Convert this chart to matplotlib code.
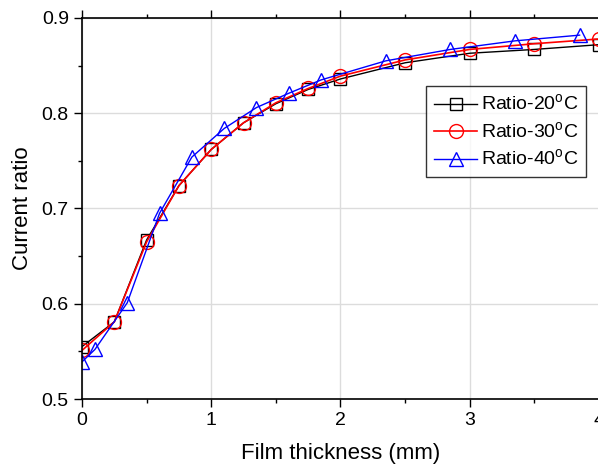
import matplotlib
matplotlib.use("Agg")
import matplotlib.pyplot as plt
from matplotlib.ticker import MultipleLocator

plt.rcParams['font.family'] = ['Liberation Sans', 'DejaVu Sans']
plt.rcParams['mathtext.fontset'] = 'custom'
plt.rcParams['mathtext.rm'] = 'Liberation Sans'

x_a = [0, 0.25, 0.5, 0.75, 1.0, 1.25, 1.5, 1.75, 2.0, 2.5, 3.0, 3.5, 4.0]
ratio_20 = [0.555, 0.581, 0.667, 0.724, 0.762, 0.790, 0.810, 0.825, 0.836, 0.853, 0.863, 0.867, 0.872]
ratio_30 = [0.551, 0.581, 0.665, 0.724, 0.762, 0.790, 0.811, 0.826, 0.839, 0.856, 0.867, 0.873, 0.878]
x_b = [0, 0.1, 0.35, 0.6, 0.85, 1.1, 1.35, 1.6, 1.85, 2.35, 2.85, 3.35, 3.85]
ratio_40 = [0.539, 0.552, 0.601, 0.695, 0.754, 0.784, 0.806, 0.821, 0.835, 0.855, 0.867, 0.876, 0.882]

labels = ['Ratio-20$^\\mathrm{o}$C', 'Ratio-30$^\\mathrm{o}$C', 'Ratio-40$^\\mathrm{o}$C']

W, H = 598, 466
fig = plt.figure(figsize=(W/100, H/100), dpi=100)
ax = fig.add_axes([82/W, (H-399)/H, (599-82)/W, (399-18)/H])

ax.plot(x_a, ratio_20, color='black', lw=1, marker='s', ms=8, mfc='none', mec='black', mew=1, label=labels[0])
ax.plot(x_a, ratio_30, color='red', lw=1.2, marker='o', ms=10, mfc='none', mec='red', mew=1, label=labels[1])
ax.plot(x_b, ratio_40, color='blue', lw=1, marker='^', ms=10, mfc='none', mec='blue', mew=1, label=labels[2])

ax.set_xlim(0, 4)
ax.set_ylim(0.5, 0.9)
ax.xaxis.set_major_locator(MultipleLocator(1))
ax.xaxis.set_minor_locator(MultipleLocator(0.5))
ax.yaxis.set_major_locator(MultipleLocator(0.1))
ax.yaxis.set_minor_locator(MultipleLocator(0.05))
ax.yaxis.set_major_formatter(matplotlib.ticker.FormatStrFormatter('%.1f'))
ax.xaxis.set_major_formatter(matplotlib.ticker.FormatStrFormatter('%d'))
ax.grid(True, which='major', color='#dcdcdc', lw=1)
ax.set_axisbelow(True)
ax.tick_params(which='major', direction='out', length=6, width=1, labelsize=14, top=True, right=True)
ax.tick_params(which='minor', direction='out', length=3, width=1, top=True, right=True)
for s in ax.spines.values():
    s.set_linewidth(1.2)

ax.set_xlabel('Film thickness (mm)', fontsize=16, labelpad=10)
ax.set_ylabel('Current ratio', fontsize=16, labelpad=6)

leg = ax.legend(loc='upper right', bbox_to_anchor=(586/W, 1-86/H), bbox_transform=fig.transFigure,
                borderaxespad=0, fontsize=14, frameon=True, fancybox=False, edgecolor='black',
                handlelength=2.2, handletextpad=0.2, labelspacing=0.35, borderpad=0.4)
leg.get_frame().set_linewidth(1)

fig.savefig('out.png', dpi=100)
